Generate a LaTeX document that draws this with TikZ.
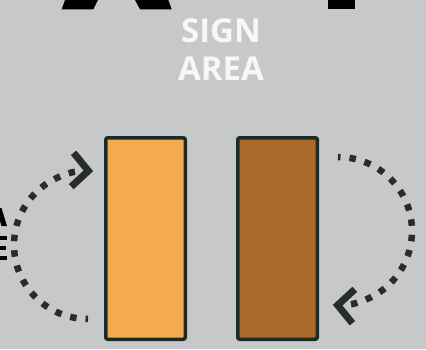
\documentclass[tikz,border=0pt]{standalone}
\usepackage{fontspec}
\setmainfont{Open Sans}
\usetikzlibrary{arrows.meta,positioning}
\definecolor{signbg}{RGB}{199,200,202}
\definecolor{panelline}{RGB}{30,42,37}
\definecolor{panellight}{RGB}{244,171,78}
\definecolor{paneldark}{RGB}{169,107,43}
\definecolor{loopgray}{RGB}{40,44,42}
\tikzset{
  panel/.style={draw=panelline, line width=3.5pt, rounded corners=2pt,
    minimum width=79.5pt, minimum height=201.5pt, inner sep=0pt},
  turn/.style={loopgray, line width=6.5pt, dash pattern=on 6.5pt off 9pt, dash phase=4pt,
    -{Straight Barb[length=16pt, width=34pt, line width=7pt]}},
  bigletter/.style={fill=black},
  signtxt/.style={font=\bfseries\fontsize{33}{38}\selectfont, text=white!97!black, align=center},
}
\begin{document}
\begin{tikzpicture}[x=1pt,y=1pt]
\fill[signbg] (0,0) rectangle (426,349);
\useasboundingbox (0,0) rectangle (426,349);
% cut-off lettering round the edges
\fill[bigletter] (65,349) -- (98,349) -- (93.3,339.7) -- (61.7,339.7) -- cycle;
\fill[bigletter] (135,349) -- (168.3,349) -- (171.7,339.7) -- (140,339.7) -- cycle;
\fill[bigletter] (328.3,339.7) rectangle (355,349);
\fill[bigletter] (0,141) -- (1.5,141) -- (7,123) -- (1.5,123) -- (0,128) -- cycle;
\fill[bigletter] (0,109) rectangle (7,113);
\fill[bigletter] (0,99) rectangle (6,103);
\fill[bigletter] (0,89) rectangle (7,93);
% caption
\node[signtxt] (sign) at (221,299) {SIGN\\AREA};
% panels
\node[panel, fill=panellight] (pleft) at (145.5,110.5) {};
\node[panel, fill=paneldark, right=49pt of pleft] (pright) {};
% turning arrows
\coordinate (cleft) at (88,104);
\coordinate (cright) at (338,118);
\draw[turn] ([shift={(270:74)}]cleft) arc[start angle=270, end angle=86, radius=74];
\draw[turn] ([shift={(90:74)}]cright) arc[start angle=90, end angle=-94, radius=74];
\end{tikzpicture}
\end{document}
